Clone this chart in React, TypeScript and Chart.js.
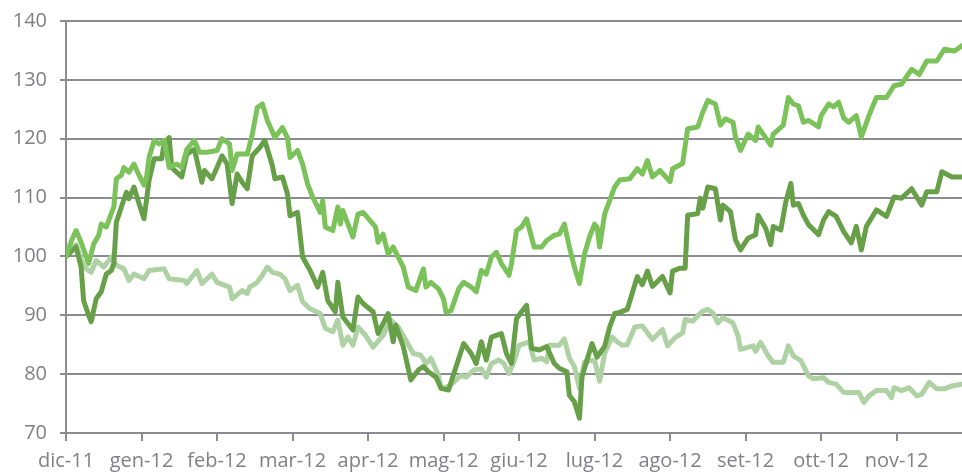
import React, { useEffect, useRef } from "react";
import { Chart, registerables } from "chart.js";

Chart.register(...registerables);

// x = day offset from 1 Dec 2011 (30-day month units), y = index value
const monthLabels = ["dic-11", "gen-12", "feb-12", "mar-12", "apr-12", "mag-12", "giu-12", "lug-12", "ago-12", "set-12", "ott-12", "nov-12"];
const monthDays = [0, 30, 60, 90, 120, 150, 180, 210, 240, 270, 300, 330];

const brightDays = [0, 2, 4, 6, 9, 11, 13, 14, 16, 19, 20, 22, 23, 25, 27, 29, 31, 32, 33, 35, 37, 39, 41, 44, 46, 48, 51, 53, 56, 60, 62, 65, 66, 68, 72, 74, 76, 78, 80, 83, 86, 88, 89, 92, 94, 96, 98, 101, 102, 103, 106, 108, 109, 110, 114, 116, 118, 121, 123, 124, 126, 128, 130, 134, 136, 139, 142, 143, 145, 148, 150, 151, 153, 156, 158, 161, 163, 165, 167, 169, 171, 173, 176, 177, 179, 181, 183, 186, 189, 191, 194, 196, 198, 200, 202, 204, 206, 208, 210, 211, 212, 214, 216, 218, 220, 224, 227, 229, 231, 233, 236, 240, 241, 245, 247, 251, 253, 255, 258, 260, 262, 265, 266, 268, 271, 274, 275, 280, 281, 285, 287, 289, 291, 293, 295, 299, 300, 303, 305, 307, 309, 311, 314, 316, 319, 322, 326, 329, 332, 336, 339, 342, 346, 349, 353, 356];
const brightVals = [100, 102.5, 104.4, 102.4, 98.8, 102.1, 103.6, 105.5, 105, 108.4, 113.2, 113.8, 115.1, 114.3, 115.7, 113.8, 112.1, 113.5, 116.8, 119.7, 119.1, 119.7, 115.1, 115.7, 115.1, 118.2, 119.7, 117.7, 117.7, 118, 120, 119.1, 114.6, 117.4, 117.4, 120.7, 125.3, 125.9, 123.1, 120.2, 121.9, 120.2, 116.8, 118, 115.7, 112.3, 110.1, 107.5, 109.5, 105, 104.4, 108.4, 105.5, 107.8, 103.3, 107.2, 107.5, 106, 105, 102.4, 103.8, 100.4, 101.6, 98.2, 94.8, 94.2, 97.9, 94.8, 95.6, 94.5, 92.8, 90.5, 90.8, 94.5, 95.6, 94.8, 94, 97.6, 97, 99.9, 100.7, 98.8, 96.8, 98.8, 104.4, 105, 106.4, 101.6, 101.6, 102.7, 103.6, 103.8, 105.5, 101.6, 98.2, 95.4, 100.4, 103.3, 105.5, 105, 101.6, 107.2, 109.5, 111.8, 113, 113.2, 114.9, 114, 116.3, 113.5, 114.6, 112.7, 114.9, 115.8, 121.7, 122, 124.5, 126.5, 125.9, 122.3, 123.4, 122.8, 120.3, 118, 120.8, 119.7, 122, 118.9, 120.8, 122.3, 127, 125.9, 125.6, 122.8, 123.1, 122, 123.9, 125.9, 125.4, 126.2, 123.5, 122.8, 123.9, 120.3, 123.9, 127, 127, 129, 129.3, 131.8, 130.9, 133.2, 133.2, 135.2, 134.9, 135.8];

const darkDays = [0, 4, 6, 7, 9, 10, 12, 14, 16, 18, 19, 20, 22, 24, 25, 27, 29, 31, 33, 35, 38, 39, 41, 42, 46, 48, 51, 54, 55, 58, 60, 62, 64, 66, 68, 70, 72, 74, 77, 79, 82, 83, 86, 88, 89, 92, 94, 97, 100, 102, 104, 107, 108, 110, 114, 116, 118, 122, 124, 128, 130, 131, 134, 137, 140, 142, 144, 147, 149, 152, 155, 158, 161, 163, 165, 167, 169, 173, 175, 177, 179, 181, 183, 185, 188, 191, 194, 196, 199, 200, 202, 204, 205, 207, 209, 211, 214, 216, 218, 220, 223, 226, 227, 229, 231, 233, 237, 240, 241, 244, 246, 247, 251, 252, 253, 255, 258, 260, 261, 264, 266, 268, 271, 274, 275, 278, 280, 281, 284, 286, 288, 289, 291, 293, 295, 299, 301, 303, 306, 309, 312, 314, 316, 318, 322, 326, 329, 332, 336, 340, 342, 346, 348, 352, 356];
const darkVals = [100, 101.6, 98.2, 92.5, 90, 88.9, 92.8, 94, 97, 97.6, 98.8, 105.8, 108.4, 110.9, 109.8, 111.8, 109, 106.4, 112.9, 116.6, 116.6, 119.1, 120.2, 115.1, 113.5, 117.4, 118.2, 112.6, 114.6, 113.2, 115.1, 117.1, 115.7, 109, 114, 112.6, 111.5, 117.1, 118.5, 119.7, 115.4, 113.2, 113.5, 110.6, 106.9, 107.5, 99.9, 97.6, 94.8, 97.3, 92.5, 90.6, 95.6, 89.7, 87.5, 93.1, 92, 90.6, 86.9, 90.3, 85.5, 88.3, 84.7, 79, 80.7, 81.3, 80.4, 79.5, 77.6, 77.3, 81.3, 85.2, 83.5, 81.8, 85.5, 82.4, 86.3, 86.9, 83.5, 81.8, 89.4, 90.6, 91.7, 84.4, 84.1, 84.7, 81.8, 81, 80.4, 76.4, 75.3, 72.5, 79.5, 82.4, 85.2, 82.9, 84.7, 88, 90.3, 90.5, 91, 95.2, 96.6, 95.2, 97.5, 94.9, 96.6, 93.8, 97.5, 98, 98, 107, 107.3, 109.9, 108.2, 111.8, 111.5, 106.2, 108.7, 107.6, 102.8, 101.1, 103.1, 103.7, 107, 104.8, 102, 105.1, 104.5, 109.3, 112.4, 108.7, 109, 107, 105.4, 103.7, 106.2, 107.6, 106.8, 104.2, 102.3, 105.1, 101.1, 105.1, 107.9, 106.8, 110.1, 109.9, 111.5, 108.7, 111, 111, 114.4, 113.5, 113.5];

const lightDays = [0, 2, 4, 6, 8, 10, 12, 15, 18, 20, 23, 25, 27, 31, 33, 39, 41, 47, 48, 52, 54, 58, 60, 65, 66, 70, 72, 73, 76, 78, 80, 82, 85, 87, 89, 92, 94, 97, 101, 103, 106, 108, 110, 112, 114, 116, 119, 122, 126, 129, 132, 135, 138, 141, 143, 145, 148, 149, 152, 155, 157, 159, 162, 165, 167, 169, 172, 174, 176, 178, 180, 184, 186, 189, 191, 192, 196, 198, 200, 202, 204, 206, 210, 212, 214, 217, 219, 221, 223, 226, 229, 233, 237, 239, 242, 245, 246, 249, 251, 253, 255, 257, 259, 261, 265, 267, 268, 273, 274, 276, 279, 281, 285, 287, 289, 292, 295, 297, 301, 303, 306, 309, 312, 315, 317, 319, 322, 326, 328, 329, 332, 335, 338, 340, 343, 346, 349, 352, 356];
const lightVals = [100, 101.5, 102, 99.5, 97.9, 97.3, 99.3, 98.2, 99.9, 98.5, 97.9, 95.9, 97, 96.2, 97.6, 97.9, 96.2, 95.9, 95.4, 97.6, 95.4, 97, 95.6, 94.8, 92.8, 94.2, 93.7, 94.8, 95.6, 96.8, 98.2, 97.3, 97, 96.2, 94.2, 95.1, 92.3, 91.1, 90.3, 87.8, 87.2, 89.2, 84.9, 86.3, 84.9, 88, 86.6, 84.6, 86.6, 89.2, 88, 85.8, 83.5, 83.2, 81.8, 82.7, 79.8, 77.6, 77.9, 79, 79.8, 79.5, 80.7, 80.9, 79.5, 81.8, 82.4, 81.8, 80.1, 82.1, 84.9, 85.5, 82.4, 82.7, 82.1, 84.9, 84.9, 86, 82.7, 81.3, 77.6, 82.1, 82.4, 78.8, 83.5, 86.3, 85.5, 84.9, 85, 88, 88.2, 85.9, 87.6, 84.8, 86.2, 87, 89.3, 89, 89.9, 90.7, 91, 90.4, 88.7, 89.6, 88.7, 86.5, 84.2, 84.8, 83.9, 85.4, 83.1, 82, 82, 84.8, 83.1, 82.3, 79.7, 79.2, 79.4, 78.6, 78.3, 76.9, 76.9, 76.9, 75.2, 76.3, 77.2, 77.2, 76, 77.7, 77.2, 77.7, 76.3, 76.6, 78.6, 77.5, 77.5, 78, 78.3];

const yTicks = [70, 80, 90, 100, 110, 120, 130, 140];

const toPoints = (xs: number[], ys: number[]) => xs.map((x, i) => ({ x, y: ys[i] }));

export default function App() {
  const ref = useRef<HTMLCanvasElement | null>(null);
  useEffect(() => {
    if (!ref.current) return;
    const grey = "#8b8b92";
    const txt = "#808087";
    const family = "'Open Sans', 'DejaVu Sans', sans-serif";
    const chart = new Chart(ref.current, {
      type: "line",
      data: {
        datasets: [
          { data: toPoints(brightDays, brightVals), borderColor: "#7cc25a", borderWidth: 5 },
          { data: toPoints(darkDays, darkVals), borderColor: "#68a04a", borderWidth: 5 },
          { data: toPoints(lightDays, lightVals), borderColor: "#aed2a3", borderWidth: 5 },
        ].map((d) => ({ ...d, pointRadius: 0, tension: 0, fill: false, borderJoinStyle: "round" as const, borderCapStyle: "round" as const })),
      },
      options: {
        animation: false,
        responsive: false,
        devicePixelRatio: 1,
        layout: { padding: { top: 0, right: 0, left: 0, bottom: 0 } },
        plugins: { legend: { display: false }, tooltip: { enabled: false } },
        scales: {
          x: {
            type: "linear",
            min: 0,
            max: 356,
            afterBuildTicks: (s: any) => {
              s.ticks = monthDays.map((v) => ({ value: v }));
            },
            afterFit: (s: any) => {
              s.height = 42;
            },
            ticks: {
              autoSkip: false,
              maxRotation: 0,
              color: txt,
              font: { family, size: 20, lineHeight: 1.2 },
              padding: 8,
              callback: (v: any) => monthLabels[monthDays.indexOf(Number(v))] ?? "",
            },
            grid: { drawOnChartArea: false, drawTicks: true, tickLength: 8, color: grey, lineWidth: 2 },
            border: { display: true, color: grey, width: 2 },
          },
          y: {
            min: 70,
            max: 140,
            afterBuildTicks: (s: any) => {
              s.ticks = yTicks.map((v) => ({ value: v }));
            },
            afterFit: (s: any) => {
              s.width = 66;
            },
            ticks: { color: txt, font: { family, size: 20, lineHeight: 0.8 }, padding: 13 },
            grid: { color: grey, lineWidth: 2, tickLength: 6, drawTicks: true },
            border: { display: true, color: grey, width: 2 },
          },
        },
      },
    });
    return () => chart.destroy();
  }, []);
  return (
    <div style={{ position: "absolute", left: 0, top: 0, width: 962, height: 475, background: "#fff" }}>
      <canvas ref={ref} width={962} height={475} style={{ width: 962, height: 475 }} />
    </div>
  );
}
